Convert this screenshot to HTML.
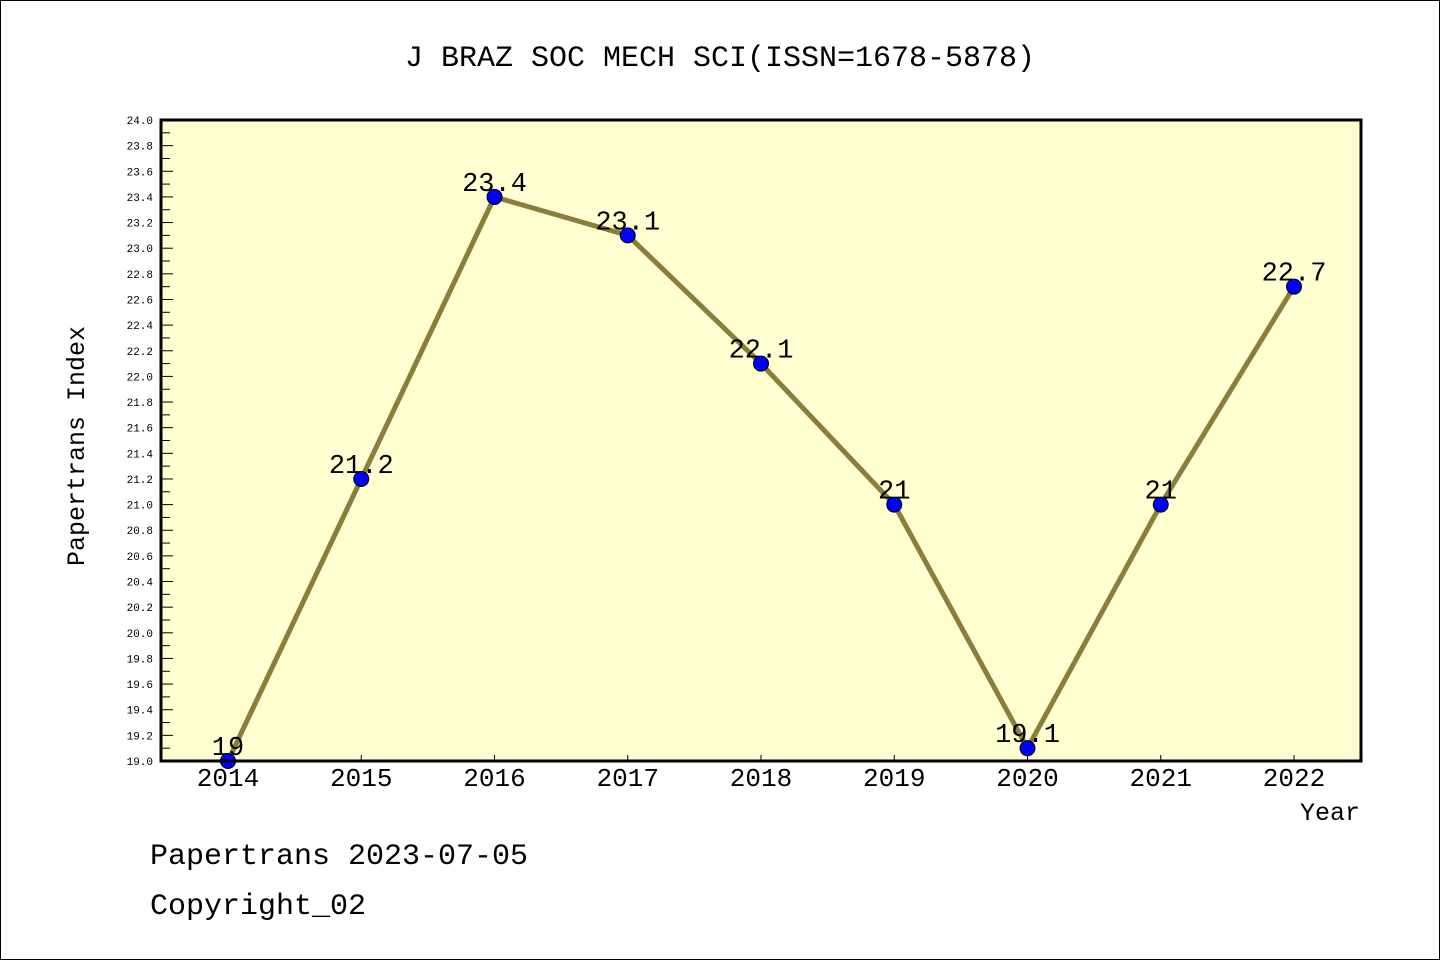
<!DOCTYPE html>
<html><head><meta charset="utf-8"><style>
body{margin:0;background:#fff}
svg{display:block}
text{font-family:"Liberation Mono",monospace;fill:#000}
</style></head><body>
<svg id="c" width="1440" height="960">
<rect x="0.5" y="0.5" width="1439" height="959" fill="#fff" stroke="#000"/>
<text x="720" y="66" font-size="30" text-anchor="middle">J BRAZ SOC MECH SCI(ISSN=1678-5878)</text>
<rect x="161" y="120" width="1200" height="641" fill="#ffffd2"/>
<g id="axes"></g>
<rect x="161" y="120" width="1200" height="641" fill="none" stroke="#000" stroke-width="3"/>
<text transform="translate(84,446) rotate(-90)" font-size="25" text-anchor="middle">Papertrans Index</text>
<text x="1360" y="820" font-size="25" text-anchor="end">Year</text>
<text x="150" y="864" font-size="30">Papertrans 2023-07-05</text>
<text x="150" y="914" font-size="30">Copyright_02</text>
</svg>
<script>
const years=[2014,2015,2016,2017,2018,2019,2020,2021,2022];
const values=[19,21.2,23.4,23.1,22.1,21,19.1,21,22.7];
const labels=["19","21.2","23.4","23.1","22.1","21","19.1","21","22.7"];
const yMin=19,yMax=24;
const NS="http://www.w3.org/2000/svg";
const X=y=>228+(y-2014)*133.25;
const Y=v=>761-(v-yMin)/(yMax-yMin)*641;
const g=document.getElementById('axes');
function mk(t,a){const e=document.createElementNS(NS,t);for(const k in a)e.setAttribute(k,a[k]);g.appendChild(e);return e;}
for(let i=0;i<=50;i++){
  const v=yMin+i*0.1,y=Y(v),maj=i%2==0;
  const l=mk('line',{x1:161,x2:161+(maj?12:9),y1:y,y2:y,stroke:'#000','stroke-width':1});
  
  
  if(maj){const t=mk('text',{x:153,y:y+4,'font-size':11,'text-anchor':'end'});t.textContent=v.toFixed(1);
  
  }
}
years.forEach(yr=>{
  const x=X(yr);
  const l=mk('line',{x1:x,x2:x,y1:761,y2:755,stroke:'#000'});
  
  
  const t=mk('text',{x:x,y:786,'font-size':26,'text-anchor':'middle'});t.textContent=yr;
  
  
});
const pts=years.map((yr,i)=>X(yr)+','+Y(values[i])).join(' ');
const pl=mk('polyline',{points:pts,fill:'none',stroke:'#8b7d3a','stroke-width':5});


years.forEach((yr,i)=>{
  const c=mk('circle',{cx:X(yr),cy:Y(values[i]),r:7.5,fill:'#0000ff',stroke:'#000','stroke-width':1});
  
  
  const t=mk('text',{x:X(yr),y:Y(values[i])-6,'font-size':27,'text-anchor':'middle'});t.textContent=labels[i];
  
  
});
</script>
</body></html>
